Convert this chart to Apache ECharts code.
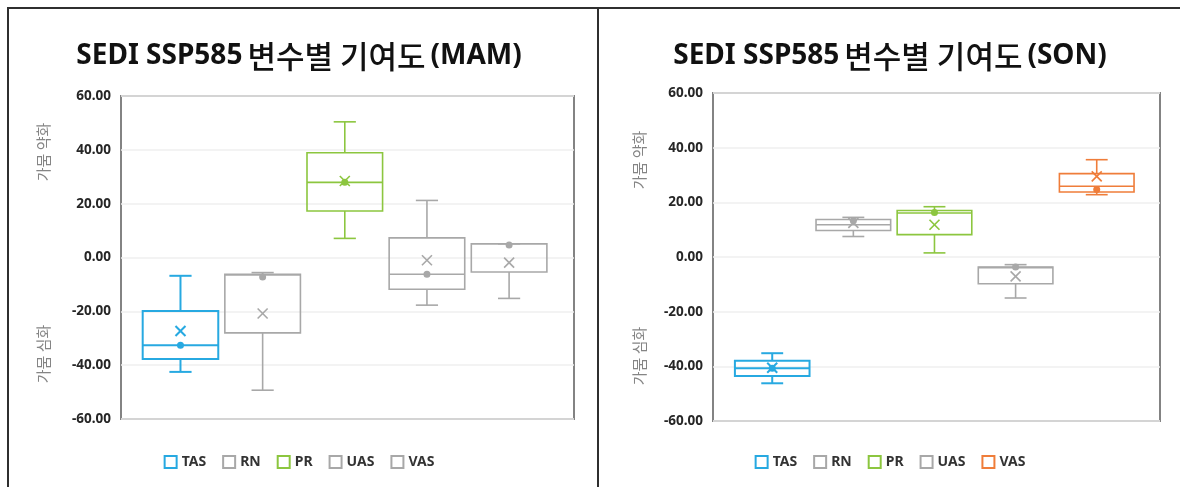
<!DOCTYPE html>
<html>
<head>
<meta charset="utf-8">
<script src="https://cdn.jsdelivr.net/npm/echarts@6/dist/echarts.min.js"></script>
<style>
  html, body { margin: 0; padding: 0; background: #ffffff; }
  #wrap { position: relative; width: 1180px; height: 487px; overflow: hidden; background: #ffffff; }
  .chart { position: absolute; top: 0; height: 487px; }
  #mam { left: 0; width: 598px; }
  #son { left: 600px; width: 580px; }
  .rule { position: absolute; background: #2f2f2f; }
</style>
</head>
<body>
<div id="wrap">
  <div id="mam" class="chart"></div>
  <div id="son" class="chart"></div>
  <div class="rule" style="left:7px;top:7px;width:1173px;height:2px"></div>
  <div class="rule" style="left:7px;top:7px;width:2px;height:480px"></div>
  <div class="rule" style="left:597px;top:7px;width:2px;height:480px"></div>
</div>
<script>
// Contributing variables (one box each)
const variables = ['TAS', 'RN', 'PR', 'UAS', 'VAS'];

// Spring (MAM) box statistics
const mamMin    = [-42.5, -49.3,  7.1, -17.7, -15.2];
const mamQ1     = [-37.7, -28.0, 17.3, -11.8,  -5.4];
const mamMedian = [-32.6,  -6.5, 27.9,  -6.2,   5.1];
const mamQ3     = [-19.9,  -6.2, 38.9,   7.3,   5.1];
const mamMax    = [ -6.8,  -5.6, 50.4,  21.2,   5.1];
const mamMean   = [-27.3, -20.8, 28.4,  -1.0,  -1.9];
const mamPoint  = [-32.6,  -7.2, 28.0,  -6.2,   4.6];

// Autumn (SON) box statistics
const sonMin    = [-46.2,  7.5,  1.5, -15.0, 22.8];
const sonQ1     = [-43.5,  9.7,  8.2,  -9.8, 23.8];
const sonMedian = [-40.7, 11.8, 16.1,  -3.9, 25.9];
const sonQ3     = [-38.0, 13.7, 17.0,  -3.7, 30.5];
const sonMax    = [-35.2, 14.5, 18.4,  -2.8, 35.6];
const sonMean   = [-40.5, 12.5, 11.8,  -7.1, 29.5];
const sonPoint  = [-40.7, 13.3, 16.3,  -3.7, 24.7];

// Value axis ticks
const yMin = -60, yMax = 60, yStep = 20;

const mamColors = ['#27a9e1', '#a8a8a8', '#8cc63f', '#a8a8a8', '#a8a8a8'];
const sonColors = ['#27a9e1', '#a8a8a8', '#8cc63f', '#a8a8a8', '#ef7d3a'];

const BOX_WIDTH = 0.92;   // in category units
const CAP_WIDTH = 0.27;

function boxRenderer(color, lw) {
  return function (params, api) {
    const x = api.value(0);
    const at = v => api.coord([x, v]);
    const half = api.size([BOX_WIDTH, 0])[0] / 2;
    const capHalf = api.size([CAP_WIDTH, 0])[0] / 2;
    const pMin = at(api.value(1)), pQ1 = at(api.value(2)), pMed = at(api.value(3));
    const pQ3 = at(api.value(4)), pMax = at(api.value(5)), pMean = at(api.value(6)), pDot = at(api.value(7));
    const cx = pMed[0];
    const line = (x1, y1, x2, y2) => ({
      type: 'line', shape: { x1, y1, x2, y2 },
      style: { stroke: color, lineWidth: lw }
    });
    const m = 5;
    return {
      type: 'group',
      children: [
        line(cx, pMax[1], cx, pQ3[1]),
        line(cx, pQ1[1], cx, pMin[1]),
        line(cx - capHalf, pMax[1], cx + capHalf, pMax[1]),
        line(cx - capHalf, pMin[1], cx + capHalf, pMin[1]),
        {
          type: 'rect',
          shape: { x: cx - half, y: pQ3[1], width: 2 * half, height: pQ1[1] - pQ3[1] },
          style: { fill: 'none', stroke: color, lineWidth: lw }
        },
        line(cx - half, pMed[1], cx + half, pMed[1]),
        line(cx - m, pMean[1] - m, cx + m, pMean[1] + m),
        line(cx - m, pMean[1] + m, cx + m, pMean[1] - m),
        { type: 'circle', shape: { cx: cx, cy: pDot[1], r: 3.5 }, style: { fill: color } }
      ]
    };
  };
}

function buildOption(cfg) {
  const series = variables.map((name, i) => ({
    name: name,
    type: 'custom',
    renderItem: boxRenderer(cfg.colors[i], i === 0 ? 2 : 1.6),
    itemStyle: { color: cfg.colors[i] },
    encode: { x: 0, y: [1, 2, 3, 4, 5] },
    data: [[i, cfg.min[i], cfg.q1[i], cfg.median[i], cfg.q3[i], cfg.max[i], cfg.mean[i], cfg.point[i]]]
  }));
  return {
    animation: false,
    title: {
      text: '{b|SEDI SSP585} {k|변수별 기여도} {b|(' + cfg.season + ')}',
      left: 'center',
      top: 36,
      textStyle: {
        rich: {
          b: { fontFamily: 'Noto Sans', fontWeight: 'bold', fontSize: 28, color: '#111' },
          k: { fontFamily: 'Noto Sans CJK KR', fontWeight: 500, fontSize: 31, color: '#111' }
        }
      }
    },
    legend: {
      left: 'center',
      top: 450,
      itemWidth: 12,
      itemHeight: 12,
      itemGap: 16,
      textStyle: { fontFamily: 'Noto Sans', fontWeight: 'bold', fontSize: 14, color: '#333' },
      data: variables.map((n, i) => ({
        name: n, icon: 'rect',
        itemStyle: { color: '#ffffff', borderColor: cfg.colors[i], borderWidth: 2 }
      }))
    },
    grid: {
      left: cfg.grid.left, right: cfg.grid.right, top: cfg.grid.top, bottom: cfg.grid.bottom,
      show: true, borderColor: '#838383', borderWidth: 2, backgroundColor: 'transparent'
    },
    xAxis: {
      type: 'value', min: cfg.xMin, max: cfg.xMax, show: false
    },
    yAxis: {
      type: 'value', min: yMin, max: yMax, interval: yStep,
      axisLine: { show: false }, axisTick: { show: false },
      axisLabel: {
        margin: 10,
        formatter: v => v.toFixed(2),
        fontFamily: 'Noto Sans', fontWeight: 'bold', fontSize: 13.5, color: '#262626'
      },
      splitLine: { lineStyle: { color: '#efefef', width: 1.5 } }
    },
    graphic: [
      { type: 'text', x: cfg.nameX, y: cfg.upperY, rotation: Math.PI / 2,
        style: { text: '가뭄 약화', fill: '#858585', font: '15px "Noto Sans CJK KR"', align: 'center', verticalAlign: 'middle' } },
      { type: 'text', x: cfg.nameX, y: cfg.lowerY, rotation: Math.PI / 2,
        style: { text: '가뭄 심화', fill: '#858585', font: '15px "Noto Sans CJK KR"', align: 'center', verticalAlign: 'middle' } }
    ],
    series: series
  };
}

const mamChart = echarts.init(document.getElementById('mam'), null, { renderer: 'canvas' });
mamChart.setOption(buildOption({
  season: 'MAM', colors: mamColors,
  min: mamMin, q1: mamQ1, median: mamMedian, q3: mamQ3, max: mamMax, mean: mamMean, point: mamPoint,
  grid: { left: 121, right: 24, top: 96, bottom: 68 },
  xMin: -0.724, xMax: 4.79,
  nameX: 43, upperY: 152, lowerY: 354
}));

const sonChart = echarts.init(document.getElementById('son'), null, { renderer: 'canvas' });
sonChart.setOption(buildOption({
  season: 'SON', colors: sonColors,
  min: sonMin, q1: sonQ1, median: sonMedian, q3: sonQ3, max: sonMax, mean: sonMean, point: sonPoint,
  grid: { left: 113, right: 20, top: 93, bottom: 66 },
  xMin: -0.73, xMax: 4.78,
  nameX: 39, upperY: 160, lowerY: 356
}));
</script>
</body>
</html>
